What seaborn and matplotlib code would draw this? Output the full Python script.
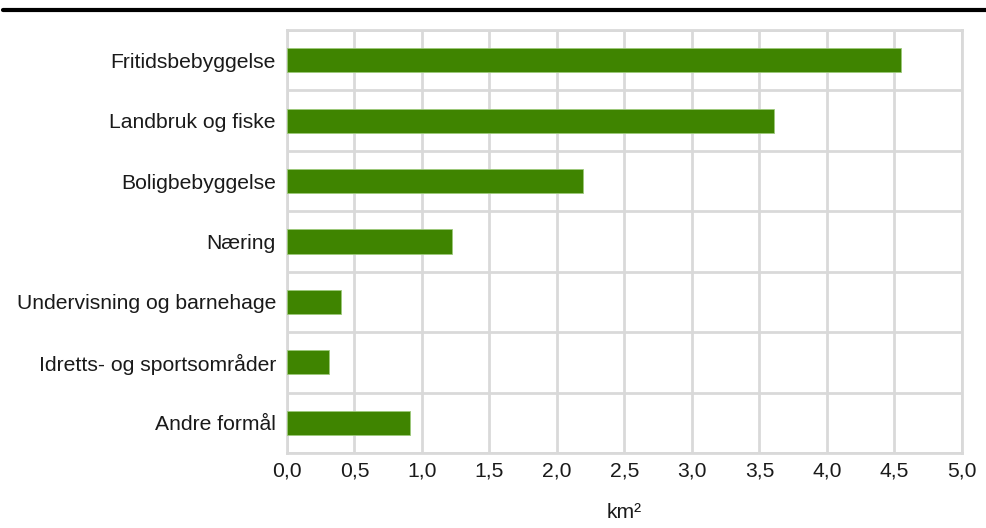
import numpy as np
import pandas as pd
import matplotlib.pyplot as plt
import seaborn as sns
from matplotlib.lines import Line2D

# Data
kategorier = ['Fritidsbebyggelse', 'Landbruk og fiske', 'Boligbebyggelse', 'Næring',
              'Undervisning og barnehage', 'Idretts- og sportsområder', 'Andre formål']
areal_km2 = [4.55, 3.61, 2.19, 1.22, 0.40, 0.31, 0.91]
x_ticks = [0.0, 0.5, 1.0, 1.5, 2.0, 2.5, 3.0, 3.5, 4.0, 4.5, 5.0]
x_tick_labels = ['0,0', '0,5', '1,0', '1,5', '2,0', '2,5', '3,0', '3,5', '4,0', '4,5', '5,0']

df = pd.DataFrame({'kategori': kategorier, 'areal': areal_km2})

sns.set_theme(style='white')
plt.rcParams['font.family'] = ['Liberation Sans', 'DejaVu Sans']

FS = 15.2
fig = plt.figure(figsize=(9.87, 5.28), dpi=100)
ax = fig.add_axes([287 / 987, 1 - 453 / 528, (962 - 287) / 987, (453 - 30) / 528])

sns.barplot(data=df, x='areal', y='kategori', orient='h', color='#3f8400',
            saturation=1, width=0.4, edgecolor='#9cc97a', linewidth=0.6, ax=ax, zorder=3)

ax.set_xlim(0, 5)
ax.set_ylim(len(kategorier) - 0.5, -0.5)
ax.set_xticks(x_ticks)
ax.set_xticklabels(x_tick_labels, fontsize=FS, color='#1a1a1a')
ax.tick_params(axis='y', labelsize=FS, labelcolor='#1a1a1a', length=0, pad=8)
ax.tick_params(axis='x', length=0, pad=6)

# Gridlines: vertical per tick, horizontal between categories
ax.set_yticks(np.arange(-0.5, len(kategorier), 1.0), minor=True)
ax.grid(axis='x', which='major', color='#d9d9d9', linewidth=2, zorder=0)
ax.grid(axis='y', which='minor', color='#d9d9d9', linewidth=2, zorder=0)
ax.grid(axis='y', which='major', visible=False)
ax.tick_params(axis='y', which='minor', length=0)
for s in ax.spines.values():
    s.set_color('#d9d9d9')
    s.set_linewidth(2)

ax.set_xlabel('km²', fontsize=FS, color='#1a1a1a', labelpad=16)
ax.set_ylabel('')

# Thick black rule at the top
fig.add_artist(Line2D([3 / 987, 1.0], [1 - 10 / 528, 1 - 10 / 528],
                      transform=fig.transFigure, color='black', linewidth=3))

fig.savefig('out.png', dpi=100)
